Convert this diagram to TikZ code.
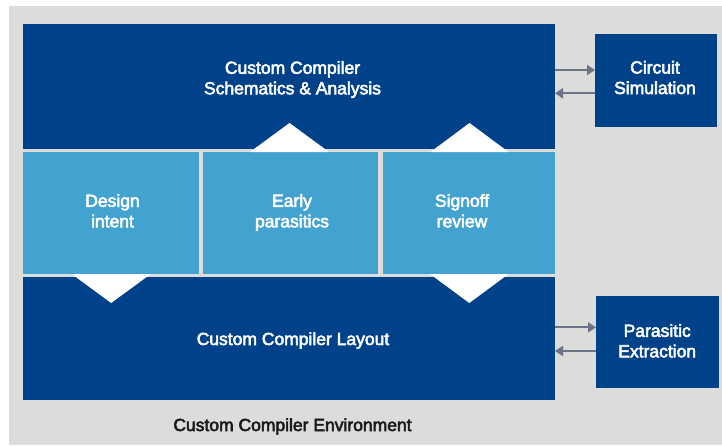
\documentclass[tikz,border=0pt]{standalone}
\usepackage{fontspec}
\newfontfamily\lblfont{Liberation Sans}[FakeBold=3]
\usetikzlibrary{arrows.meta}
\definecolor{darkblue}{HTML}{00428A}
\definecolor{lightblue}{HTML}{43A3D0}
\definecolor{bggray}{HTML}{DCDCDB}
\definecolor{arrowgray}{HTML}{6B7384}
\definecolor{textdark}{HTML}{1A1A1A}
\begin{document}
\begin{tikzpicture}[x=1pt,y=-1pt,
  box/.style={rectangle, inner sep=0pt, outer sep=0pt, draw=none},
  darkbox/.style={box, fill=darkblue},
  lightbox/.style={box, fill=lightblue},
  lbl/.style={text=white, align=center, inner sep=0pt, anchor=base,
    font=\lblfont\fontsize{17.5}{20.5}\selectfont},
  conn/.style={draw=arrowgray, line width=2pt, -{Triangle[length=8pt,width=10pt]}},
  notch/.style={fill=white}]
\useasboundingbox (0,0) rectangle (722,445);
\fill[bggray] (9,6) rectangle (722,445);
% main boxes
\node[darkbox, minimum width=532pt, minimum height=125pt] (sch) at (289,86.5) {};
\node[lightbox, minimum width=176pt, minimum height=122pt] (intent) at (111,213) {};
\node[lightbox, minimum width=175pt, minimum height=122pt] (early) at (290.5,213) {};
\node[lightbox, minimum width=172pt, minimum height=122pt] (signoff) at (469,213) {};
\node[darkbox, minimum width=532pt, minimum height=123pt] (layout) at (289,338.5) {};
\node[darkbox, minimum width=122pt, minimum height=93pt] (sim) at (656,80.3) {};
\node[darkbox, minimum width=123pt, minimum height=92pt] (pex) at (657.5,342) {};
% notches
\fill[notch] (250,152) -- (289.5,123) -- (329,152) -- cycle;
\fill[notch] (430.5,152) -- (469.5,123) -- (508.5,152) -- cycle;
\fill[notch] (71.7,274) -- (111.2,303) -- (150.7,274) -- cycle;
\fill[notch] (430,274) -- (469.3,303) -- (508.5,274) -- cycle;
% labels (base anchor = baseline of last line)
\node[lbl] (tsch) at (292.5,94.3) {Custom Compiler\\Schematics \& Analysis};
\node[lbl] (tintent) at (112.5,227.3) {Design\\intent};
\node[lbl] (tearly) at (292,227.3) {Early\\parasitics};
\node[lbl] (tsignoff) at (462,227.3) {Signoff\\review};
\node[lbl] (tlayout) at (293,345) {Custom Compiler Layout};
\node[lbl] (tsim) at (655,94) {Circuit\\Simulation};
\node[lbl] (tpex) at (657.2,357.3) {Parasitic\\Extraction};
\node[lbl, text=textdark] (tenv) at (292.5,431) {Custom Compiler Environment};
% connectors
\coordinate (ya) at (0,70);
\coordinate (yb) at (0,93.3);
\coordinate (yc) at (0,327.3);
\coordinate (yd) at (0,351);
\draw[conn] (sch.east |- ya) -- (sim.west |- ya);
\draw[conn] (sim.west |- yb) -- (sch.east |- yb);
\draw[conn] (layout.east |- yc) -- (pex.west |- yc);
\draw[conn] (pex.west |- yd) -- (layout.east |- yd);
\end{tikzpicture}
\end{document}
